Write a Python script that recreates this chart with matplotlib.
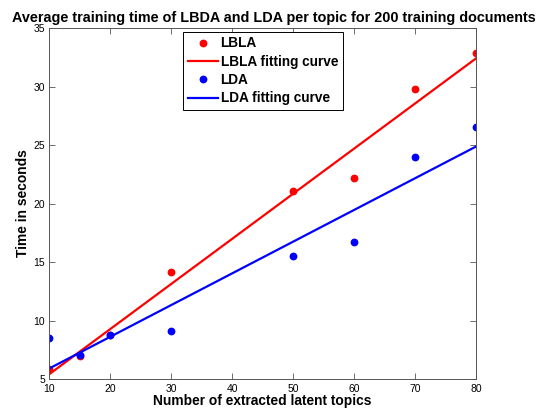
import matplotlib
matplotlib.use("Agg")
import matplotlib.pyplot as plt
import numpy as np

plt.rcParams['font.family'] = ['Liberation Sans', 'DejaVu Sans']

topics = [10, 15, 20, 30, 50, 60, 70, 80]
lbla_time = [5.85, 6.95, 8.8, 14.15, 21.05, 22.15, 29.75, 32.85]
lda_time = [8.5, 7.05, 8.8, 9.1, 15.55, 16.75, 23.95, 26.55]

x_ticks = [10, 20, 30, 40, 50, 60, 70, 80]
y_ticks = [5, 10, 15, 20, 25, 30, 35]

# linear fits, like the original polyfit curves
fit_x = np.array([min(topics), max(topics)])
lbla_fit = np.polyval(np.polyfit(topics, lbla_time, 1), fit_x)
lda_fit = np.polyval(np.polyfit(topics, lda_time, 1), fit_x)

fig = plt.figure(figsize=(5.47, 4.15), dpi=100)
ax = fig.add_axes([0.0896, 0.0867, 0.7806, 0.8458])

ax.plot(topics, lbla_time, 'o', color='#ff0000', markersize=4.6, label='LBLA')
ax.plot(fit_x, lbla_fit, '-', color='#ff0000', linewidth=1.6, label='LBLA fitting curve')
ax.plot(topics, lda_time, 'o', color='#0000ff', markersize=4.6, label='LDA')
ax.plot(fit_x, lda_fit, '-', color='#0000ff', linewidth=1.6, label='LDA fitting curve')

ax.set_xlim(10, 80)
ax.set_ylim(5, 35)
ax.set_xticks(x_ticks)
ax.set_yticks(y_ticks)
ax.tick_params(direction='in', top=True, right=True, length=4, width=0.6,
               color='#555555', labelsize=7.5)
ax.tick_params(axis='x', pad=3.5)
ax.tick_params(axis='y', pad=3)
for s in ax.spines.values():
    s.set_color('#555555')
    s.set_linewidth(0.7)

ax.set_title('Average training time of LBDA and LDA per topic for 200 training documents',
             fontsize=10.4, fontweight='bold', pad=4, x=0.526)
ax.set_xlabel('Number of extracted latent topics', fontsize=9.9, fontweight='bold', labelpad=0)
ax.set_ylabel('Time in seconds', fontsize=9.9, fontweight='bold', labelpad=2)

leg = ax.legend(loc='upper left', bbox_to_anchor=(0.314, 0.99), fancybox=False,
                edgecolor='black', framealpha=1, borderaxespad=0,
                prop={'weight': 'bold', 'size': 9.8}, handlelength=2.2,
                handletextpad=0.2, labelspacing=0.32, borderpad=0.35)
leg.get_frame().set_linewidth(0.7)

fig.savefig('out.png', dpi=100)
